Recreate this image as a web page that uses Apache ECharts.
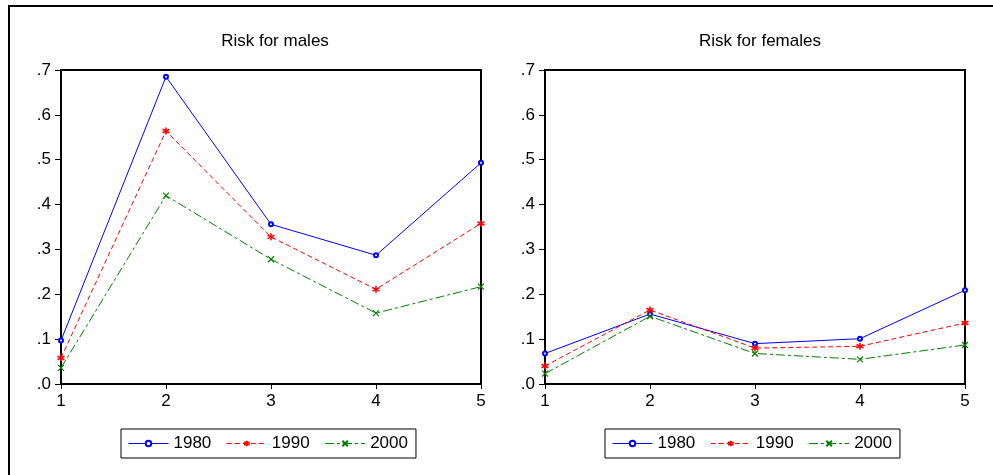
<!DOCTYPE html>
<html>
<head>
<meta charset="utf-8">
<script src="https://cdn.jsdelivr.net/npm/echarts@6/dist/echarts.min.js"></script>
<style>
  html, body { margin: 0; padding: 0; background: #fff; }
  #main { width: 993px; height: 475px; }
</style>
</head>
<body>
<div id="main"></div>
<script>
// x positions (groups 1..5)
const groups = [1, 2, 3, 4, 5];
const years = ['1980', '1990', '2000'];

// risk for males
const males1980 = [0.097, 0.685, 0.356, 0.287, 0.493];
const males1990 = [0.058, 0.564, 0.328, 0.211, 0.358];
const males2000 = [0.036, 0.420, 0.278, 0.158, 0.217];

// risk for females
const females1980 = [0.068, 0.156, 0.090, 0.101, 0.209];
const females1990 = [0.040, 0.165, 0.080, 0.084, 0.136];
const females2000 = [0.023, 0.151, 0.068, 0.055, 0.087];

const FONT = 'Liberation Sans, Arial, sans-serif';
const asterisk = 'path://M0,-5L0,5M-4.3,-2.5L4.3,2.5M-4.3,2.5L4.3,-2.5';
const cross = 'path://M-4,-4L4,4M-4,4L4,-4';

const styles = {
    '1980': { color: '#0000ff', type: 'solid', symbol: 'emptyCircle', size: 4, bw: 1 },
    '1990': { color: '#ff0000', type: [5, 3], symbol: asterisk, size: 7, bw: 1.6 },
    '2000': { color: '#008000', type: [9, 3, 3, 3], symbol: cross, size: 6, bw: 1.2 }
};

function pairs(vals) {
    return groups.map((g, i) => [g, vals[i]]);
}

function makeSeries(name, vals, idx) {
    const s = styles[name];
    return {
        name: name,
        type: 'line',
        xAxisIndex: idx,
        yAxisIndex: idx,
        data: pairs(vals),
        symbol: s.symbol,
        symbolSize: s.size,
        clip: false,
        lineStyle: { color: s.color, width: 1, type: s.type },
        itemStyle: { color: s.color, borderColor: s.color, borderWidth: s.bw },
        emphasis: { disabled: true },
        animation: false
    };
}

function xAxis(idx) {
    return {
        type: 'value', gridIndex: idx, min: 1, max: 5, interval: 1,
        axisLine: { lineStyle: { color: '#000', width: 2 } },
        axisTick: { inside: false, length: 5, lineStyle: { color: '#000', width: 1 } },
        axisLabel: { color: '#000', fontSize: 17, fontFamily: FONT, margin: 9 },
        splitLine: { show: false }
    };
}

function yAxis(idx) {
    return {
        type: 'value', gridIndex: idx, min: 0, max: 0.7, interval: 0.1,
        axisLine: { show: true, lineStyle: { color: '#000', width: 2 } },
        axisTick: { show: true, inside: false, length: 6, lineStyle: { color: '#000', width: 1 } },
        axisLabel: {
            color: '#000', fontSize: 17, fontFamily: FONT, margin: 10,
            formatter: v => v.toFixed(1).replace(/^0/, '')
        },
        splitLine: { show: false }
    };
}

function legend(left) {
    return {
        left: left, top: 429,
        data: years,
        itemWidth: 40, itemHeight: 7, itemGap: 15,
        padding: [6, 8, 6, 7],
        borderColor: '#000', borderWidth: 1,
        selectedMode: false,
        lineStyle: { width: 1 },
        textStyle: { color: '#000', fontSize: 17, fontFamily: FONT }
    };
}

const chart = echarts.init(document.getElementById('main'));
chart.setOption({
    backgroundColor: '#fff',
    animation: false,
    title: [
        { text: 'Risk for males', left: 270, top: 28, textAlign: 'center',
          textStyle: { fontSize: 17, fontWeight: 'normal', color: '#000', fontFamily: FONT } },
        { text: 'Risk for females', left: 755, top: 28, textAlign: 'center',
          textStyle: { fontSize: 17, fontWeight: 'normal', color: '#000', fontFamily: FONT } }
    ],
    legend: [legend(121), legend(605)],
    grid: [
        { left: 61, right: 512, top: 70, bottom: 91, show: true, borderColor: '#000', borderWidth: 2 },
        { left: 545, right: 28, top: 70, bottom: 91, show: true, borderColor: '#000', borderWidth: 2 }
    ],
    xAxis: [xAxis(0), xAxis(1)],
    yAxis: [yAxis(0), yAxis(1)],
    series: [
        makeSeries('1980', males1980, 0),
        makeSeries('1990', males1990, 0),
        makeSeries('2000', males2000, 0),
        makeSeries('1980', females1980, 1),
        makeSeries('1990', females1990, 1),
        makeSeries('2000', females2000, 1)
    ],
    graphic: [{
        type: 'polyline',
        shape: { points: [[9, 480], [9, 6], [1000, 6]] },
        style: { stroke: '#000', lineWidth: 2, fill: null }
    }]
});
</script>
</body>
</html>
